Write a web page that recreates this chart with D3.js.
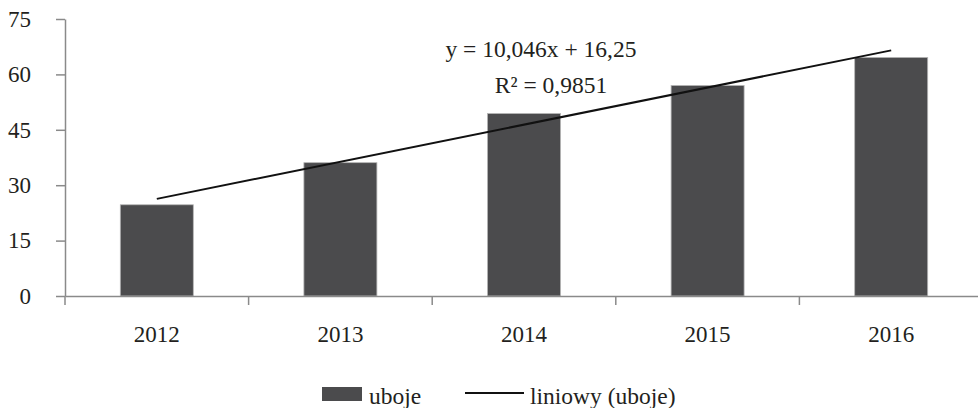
<!DOCTYPE html>
<html>
<head>
<meta charset="utf-8">
<script src="https://cdn.jsdelivr.net/npm/d3@7"></script>
<style>
  body { margin: 0; background: #fff; }
  svg { display: block; font-family: 'Liberation Serif', 'Times New Roman', serif; }
</style>
</head>
<body>
<svg width="978" height="408"></svg>
<script>
// data
const years = ['2012', '2013', '2014', '2015', '2016']
const uboje = [24.7, 36.1, 49.4, 57.0, 64.6]
const yTicks = [0, 15, 30, 45, 60, 75]
// linear trend end points (y = 10,046x + 16,25)
const trendYears = ['2012', '2016']
const trendValues = [26.3, 66.5]
const trendLabel = ['y = 10,046x + 16,25', 'R\u00b2 = 0,9851']

const svg = d3.select('svg')
const axisColor = '#8a8a8a'
const barColor = '#4b4b4d'
const textColor = '#231f20'

const x = d3.scaleBand().domain(years).range([65, 983]).paddingInner(0.6).paddingOuter(0.3)
const xb = d3.scaleBand().domain(years).range([65, 983])
const y = d3.scaleLinear().domain([0, 75]).range([296, 19])

// bars
svg.append('g')
  .selectAll('rect')
  .data(years)
  .enter().append('rect')
  .attr('x', function (d) { return xb(d) + (xb.bandwidth() - 73) / 2 })
  .attr('width', 73)
  .attr('y', function (d, i) { return y(uboje[i]) })
  .attr('height', function (d, i) { return y(0) - y(uboje[i]) })
  .attr('fill', barColor)
  .attr('stroke', '#b5b5b5')
  .attr('stroke-width', 0.8)

// y axis
const yAxis = svg.append('g')
  .attr('transform', 'translate(65,0)')
  .call(d3.axisLeft(y).tickValues(yTicks).tickSize(9).tickPadding(25).tickSizeOuter(0))
yAxis.select('.domain').attr('stroke', axisColor).attr('stroke-width', 1.5)
yAxis.selectAll('.tick line').attr('stroke', axisColor).attr('stroke-width', 1.5)
yAxis.selectAll('.tick text')
  .attr('font-size', 23)
  .attr('font-family', 'Liberation Serif')
  .attr('fill', textColor)

// x axis: labels at band centres, ticks at band boundaries
const xAxis = svg.append('g')
  .attr('transform', 'translate(0,' + y(0) + ')')
  .call(d3.axisBottom(xb).tickSize(0).tickPadding(30).tickSizeOuter(0))
xAxis.select('.domain').attr('stroke', axisColor).attr('stroke-width', 1.5)
xAxis.selectAll('.tick text')
  .attr('font-size', 23)
  .attr('font-family', 'Liberation Serif')
  .attr('fill', textColor)
xAxis.selectAll('.boundary')
  .data(years)
  .enter().append('line')
  .attr('class', 'boundary')
  .attr('x1', function (d) { return xb(d) })
  .attr('x2', function (d) { return xb(d) })
  .attr('y1', 0)
  .attr('y2', 9)
  .attr('stroke', axisColor)
  .attr('stroke-width', 1.5)

// trend line
const line = d3.line()
  .x(function (d) { return xb(d[0]) + xb.bandwidth() / 2 })
  .y(function (d) { return y(d[1]) })
svg.append('path')
  .datum(d3.zip(trendYears, trendValues))
  .attr('d', line)
  .attr('fill', 'none')
  .attr('stroke', '#111')
  .attr('stroke-width', 2)

// equation label
svg.append('text')
  .attr('x', 541).attr('y', 57)
  .attr('text-anchor', 'middle')
  .attr('font-size', 23.5)
  .attr('fill', textColor)
  .text(trendLabel[0])
svg.append('text')
  .attr('x', 551).attr('y', 93)
  .attr('text-anchor', 'middle')
  .attr('font-size', 23.5)
  .attr('fill', textColor)
  .text(trendLabel[1])

// legend
const legend = svg.append('g')
legend.append('rect')
  .attr('x', 322).attr('y', 387).attr('width', 40).attr('height', 14)
  .attr('fill', barColor)
legend.append('text')
  .attr('x', 369).attr('y', 404)
  .attr('font-size', 23.5)
  .attr('fill', textColor)
  .text('uboje')
legend.append('line')
  .attr('x1', 465).attr('x2', 524).attr('y1', 393).attr('y2', 393)
  .attr('stroke', '#111').attr('stroke-width', 2)
legend.append('text')
  .attr('x', 530).attr('y', 404)
  .attr('font-size', 23.5)
  .attr('fill', textColor)
  .text('liniowy (uboje)')
</script>
</body>
</html>
